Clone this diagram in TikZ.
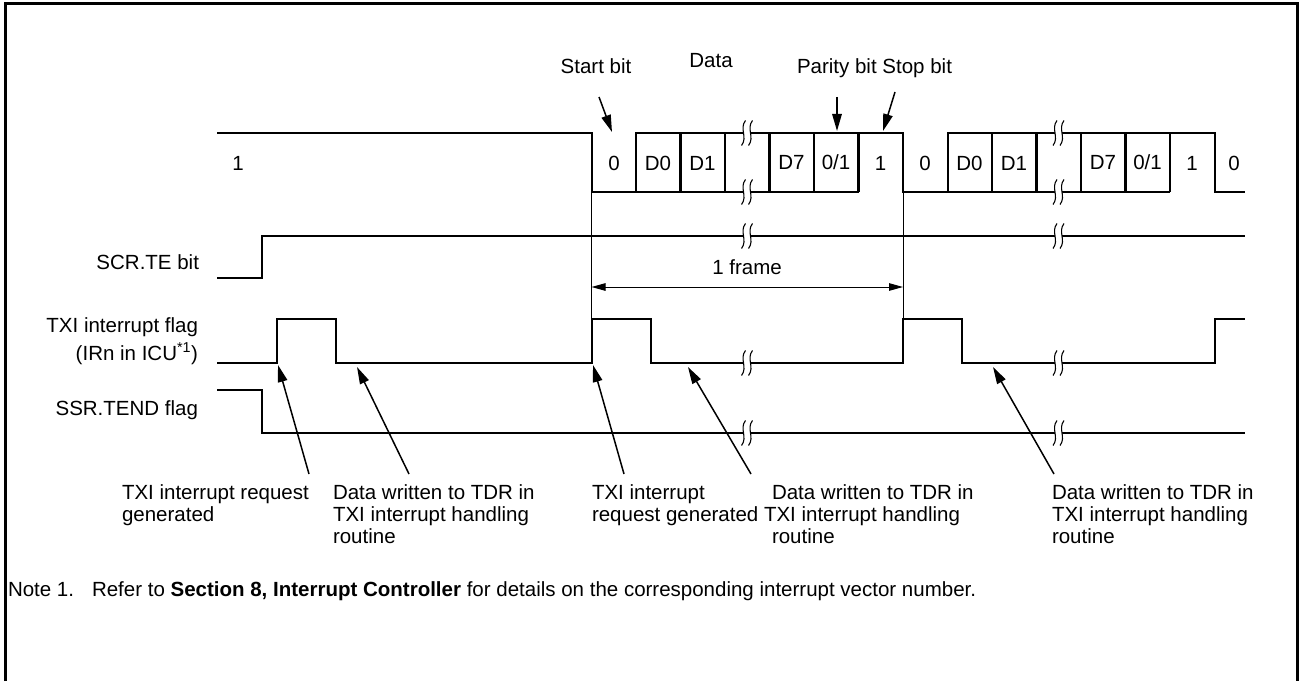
\documentclass[tikz,border=0pt]{standalone}
\usepackage{fontspec}
\setmainfont{Liberation Sans}
\usetikzlibrary{arrows.meta}
\begin{document}
\begin{tikzpicture}[x=1bp,y=-1bp,
  wave/.style={line width=2bp},
  cellline/.style={line width=2.6bp},
  guide/.style={line width=0.9bp},
  txt/.style={font=\fontsize{20.5bp}{23bp}\selectfont, inner sep=0pt, outer sep=0pt},
  ptr/.style={line width=1.5bp, -{Triangle[length=17bp,width=9.5bp]}},
  brk/.pic={
    \fill[white] (-1.5,-12.5) .. controls (-8,-4) and (1,4) .. (-5.5,12.5) -- (1.5,12.5) .. controls (8,4) and (-1,-4) .. (5.5,-12.5) -- cycle;
    \draw[line width=1.1bp] (-1.5,-12.5) .. controls (-8,-4) and (1,4) .. (-5.5,12.5);
    \draw[line width=1.1bp] (5.5,-12.5) .. controls (-1,-4) and (8,4) .. (1.5,12.5);
  }]
\useasboundingbox (0,0) rectangle (1301,681);
% frame
\draw[line width=3bp] (5,681) -- (5,4) -- (1297,4) -- (1297,681);

% ---- TX data line ----
\draw[wave] (217,133) -- (591.5,133) -- (591.5,192) -- (858.5,192);
\draw[wave] (636,192) -- (636,133) -- (903,133) -- (903,192) -- (1170,192);
\draw[wave] (947.5,192) -- (947.5,133) -- (1214.5,133) -- (1214.5,192) -- (1245,192);
\foreach \x in {680.5,725,769.5,814,858.5,992,1036.5,1081,1125.5,1170}
  \draw[cellline] (\x,133) -- (\x,192);

% bit labels
\node[txt, anchor=base] (b1) at (238,170) {1};
\node[txt, anchor=base] (s0a) at (614,170) {0};
\node[txt, anchor=base] (d0a) at (658,170) {D0};
\node[txt, anchor=base] (d1a) at (702.5,170) {D1};
\node[txt, anchor=base] (d7a) at (791.5,169) {D7};
\node[txt, anchor=base] (pa) at (836,169) {0/1};
\node[txt, anchor=base] (sta) at (880.5,170) {1};
\node[txt, anchor=base] (s0b) at (925,170) {0};
\node[txt, anchor=base] (d0b) at (969.5,170) {D0};
\node[txt, anchor=base] (d1b) at (1014,170) {D1};
\node[txt, anchor=base] (d7b) at (1103,169) {D7};
\node[txt, anchor=base] (pb) at (1147.5,169) {0/1};
\node[txt, anchor=base] (stb) at (1192,170) {1};
\node[txt, anchor=base] (s0c) at (1234,170) {0};

% top labels and arrows
\node[txt, anchor=base] (startlbl) at (596,74) {Start bit};
\node[txt, anchor=base] (datalbl) at (711,68) {Data};
\node[txt, anchor=base west] (psl) at (797,74) {Parity bit Stop bit};
\coordinate (sa1) at (599,97);  \coordinate (sa2) at (612,132);
\coordinate (pa1) at (837,97);  \coordinate (pa2) at (837,131);
\coordinate (ta1) at (895,92);  \coordinate (ta2) at (883,131);
\draw[ptr] (sa1) -- (sa2);
\draw[ptr] (pa1) -- (pa2);
\draw[ptr] (ta1) -- (ta2);

% ---- SCR.TE ----
\node[txt, anchor=base east] (telbl) at (199,269) {SCR.TE bit};
\draw[wave] (217,278) -- (262,278) -- (262,236) -- (1245,236);

% ---- TXI ----
\node[txt, anchor=base east] (txilbl) at (198,332) {TXI interrupt flag};
\node[txt, anchor=base east] (irnlbl) at (198,360) {(IRn in ICU\textsuperscript{*1})};
\draw[wave] (217,363) -- (277,363) -- (277,318.5) -- (336,318.5) -- (336,363)
  -- (591.5,363) -- (591.5,318.5) -- (651,318.5) -- (651,363)
  -- (903,363) -- (903,318.5) -- (962,318.5) -- (962,363)
  -- (1214.5,363) -- (1214.5,318.5) -- (1245,318.5);

% ---- SSR.TEND ----
\node[txt, anchor=base east] (tendlbl) at (198,415) {SSR.TEND flag};
\draw[wave] (217,390) -- (262,390) -- (262,433) -- (1245,433);

% guides and frame arrow
\draw[guide] (591.5,192) -- (591.5,318.5);
\draw[guide] (903,192) -- (903,318.5);
\coordinate (fl) at (591.5,287);
\coordinate (fr) at (903,287);
\draw[line width=1bp, {Triangle[length=14bp,width=7.5bp]}-{Triangle[length=14bp,width=7.5bp]}] (fl) -- (fr);
\node[txt, anchor=base] (framelbl) at (747,274) {1 frame};

% break marks
\foreach \x in {747,1058.5}{
  \foreach \y in {133,192,236,363,433}{
    \pic at (\x,\y) {brk};
  }
}

% ---- bottom labels ----
\node[txt, anchor=base west] (l1a) at (122,499) {TXI interrupt request};
\node[txt, anchor=base west] (l1b) at (122,521) {generated};
\node[txt, anchor=base west] (l2a) at (333,499) {Data written to TDR in};
\node[txt, anchor=base west] (l2b) at (333,521) {TXI interrupt handling};
\node[txt, anchor=base west] (l2c) at (333,543) {routine};
\node[txt, anchor=base west] (l3a) at (592,499) {TXI interrupt};
\node[txt, anchor=base west] (l3b) at (592,521) {request generated};
\node[txt, anchor=base west] (l4a) at (772,499) {Data written to TDR in};
\node[txt, anchor=base west] (l4b) at (764,521) {TXI interrupt handling};
\node[txt, anchor=base west] (l4c) at (772,543) {routine};
\node[txt, anchor=base west] (l5a) at (1052,499) {Data written to TDR in};
\node[txt, anchor=base west] (l5b) at (1052,521) {TXI interrupt handling};
\node[txt, anchor=base west] (l5c) at (1052,543) {routine};

% bottom arrows
\coordinate (a1t) at (309,474); \coordinate (a1h) at (278,365);
\coordinate (a2t) at (409,474); \coordinate (a2h) at (357,367);
\coordinate (a3t) at (624,474); \coordinate (a3h) at (593,365);
\coordinate (a4t) at (751,474); \coordinate (a4h) at (688,367);
\coordinate (a5t) at (1054,474); \coordinate (a5h) at (993,367);
\draw[ptr] (a1t) -- (a1h);
\draw[ptr] (a2t) -- (a2h);
\draw[ptr] (a3t) -- (a3h);
\draw[ptr] (a4t) -- (a4h);
\draw[ptr] (a5t) -- (a5h);

% note
\node[txt, anchor=base west] (note) at (8,596) {Note 1.};
\node[txt, anchor=base west] (notetext) at (92,596) {Refer to \textbf{Section 8, Interrupt Controller} for details on the corresponding interrupt vector number.};
\end{tikzpicture}
\end{document}
